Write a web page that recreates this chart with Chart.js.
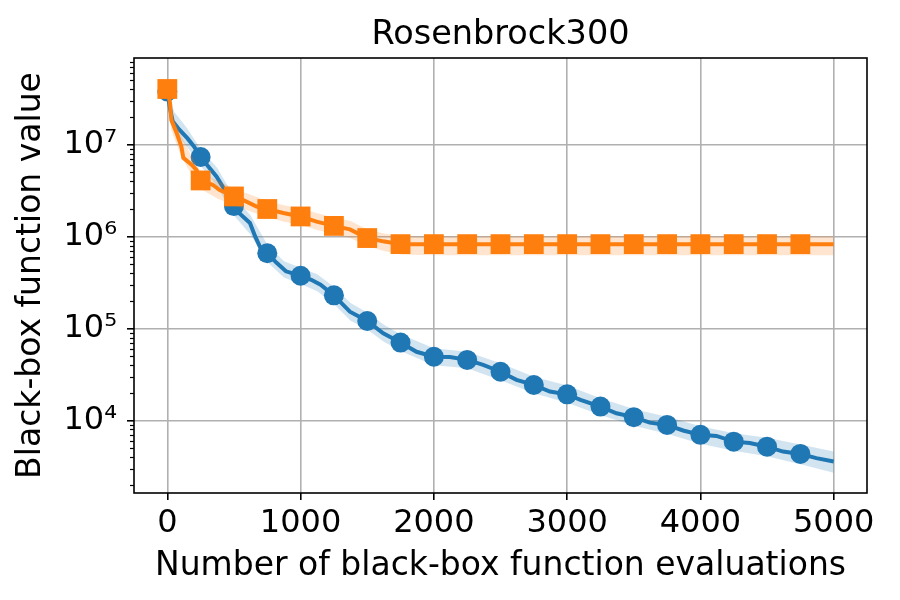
<!DOCTYPE html>
<html>
<head>
<meta charset="utf-8">
<script src="https://cdn.jsdelivr.net/npm/chart.js@4.4.1/dist/chart.umd.min.js"></script>
<style>
  html, body { margin: 0; padding: 0; background: #fff; }
</style>
</head>
<body>
<canvas id="chart" width="900" height="600"></canvas>
<script>
// values
const blueX = [0, 20, 40, 90, 150, 200, 250, 370, 430, 500, 540, 620, 660, 700, 750, 820, 890, 1000,
  1080, 1150, 1250, 1370, 1500, 1620, 1750, 1870, 2000, 2120, 2250, 2370, 2500, 2620, 2750, 2870,
  3000, 3100, 3250, 3370, 3500, 3620, 3750, 3870, 4000, 4120, 4250, 4370, 4500, 4620, 4750, 4870, 5000];
const blueY = [3.8e7, 2.5e7, 1.8e7, 1.46e7, 1.18e7, 9.6e6, 7.35e6, 4.5e6, 3.24e6, 2.15e6, 1.8e6, 1.41e6,
  1.0e6, 7.5e5, 6.6e5, 5.2e5, 4.2e5, 3.76e5, 3.4e5, 3.0e5, 2.3e5, 1.53e5, 1.21e5, 8.9e4, 7.05e4, 5.6e4,
  4.95e4, 4.9e4, 4.57e4, 4.04e4, 3.4e4, 2.77e4, 2.44e4, 2.07e4, 1.93e4, 1.68e4, 1.42e4, 1.2e4, 1.09e4,
  9.5e3, 8.97e3, 7.8e3, 6.99e3, 6.8e3, 5.9e3, 5.7e3, 5.2e3, 4.6e3, 4.34e3, 3.9e3, 3.58e3];

const orangeX = [0, 20, 30, 70, 105, 120, 180, 220, 250, 340, 390, 500, 590, 670, 750, 870, 1000, 1120,
  1250, 1370, 1500, 1620, 1750, 2000, 2250, 2500, 2750, 3000, 3250, 3500, 3750, 4000, 4250, 4500, 4750, 5000];
const orangeY = [4.04e7, 2.85e7, 1.86e7, 1.34e7, 9.6e6, 7.2e6, 6.1e6, 5.3e6, 4.09e6, 3.67e6, 3.24e6,
  2.74e6, 2.42e6, 2.13e6, 2.0e6, 1.81e6, 1.66e6, 1.46e6, 1.31e6, 1.2e6, 9.66e5, 8.9e5, 8.3e5, 8.3e5,
  8.3e5, 8.3e5, 8.3e5, 8.3e5, 8.3e5, 8.3e5, 8.3e5, 8.3e5, 8.3e5, 8.3e5, 8.3e5, 8.3e5];

// shaded spread around each curve
const blueBandX = [0, 50, 150, 250, 375, 500, 625, 750, 875, 1000, 1125, 1250, 1375, 1500, 1625, 1750,
  2000, 2250, 2500, 2750, 3000, 3250, 3500, 3750, 4000, 4250, 4500, 4750, 5000];
const blueUpper = [4.5e7, 2.3e7, 1.5e7, 9.0e6, 5.6e6, 2.7e6, 1.7e6, 8.2e5, 5.4e5, 4.6e5, 3.9e5, 2.85e5,
  1.9e5, 1.5e5, 1.1e5, 8.7e4, 6.1e4, 5.6e4, 4.2e4, 3.0e4, 2.4e4, 1.75e4, 1.34e4, 1.1e4, 8.7e3,
  7.3e3, 6.5e3, 5.5e3, 4.6e3];
const blueLower = [3.2e7, 1.4e7, 9.4e6, 5.9e6, 3.5e6, 1.7e6, 1.05e6, 5.3e5, 3.6e5, 3.05e5, 2.55e5, 1.85e5,
  1.22e5, 9.8e4, 7.2e4, 5.7e4, 4.0e4, 3.7e4, 2.75e4, 1.98e4, 1.56e4, 1.15e4, 8.8e3, 7.2e3, 5.6e3,
  4.7e3, 4.1e3, 3.35e3, 2.7e3];

const orangeBandX = [0, 30, 105, 180, 250, 375, 500, 625, 750, 875, 1000, 1125, 1250, 1375, 1500, 1625,
  1750, 2000, 2500, 3000, 3500, 4000, 4500, 5000];
const orangeUpper = [4.6e7, 2.3e7, 1.25e7, 7.6e6, 5.0e6, 4.1e6, 3.35e6, 2.85e6, 2.45e6, 2.2e6, 2.02e6,
  1.8e6, 1.62e6, 1.48e6, 1.2e6, 1.08e6, 1.01e6, 1.01e6, 1.01e6, 1.01e6, 1.01e6, 1.01e6, 1.01e6, 1.01e6];
const orangeLower = [3.5e7, 1.45e7, 7.4e6, 4.8e6, 3.3e6, 2.6e6, 2.2e6, 1.88e6, 1.64e6, 1.45e6, 1.35e6,
  1.18e6, 1.06e6, 9.6e5, 7.9e5, 7.0e5, 6.4e5, 6.3e5, 6.3e5, 6.3e5, 6.3e5, 6.3e5, 6.3e5, 6.3e5];

const xTicks = [0, 1000, 2000, 3000, 4000, 5000];
const yMajor = [1e4, 1e5, 1e6, 1e7];
const yTickLabels = ['10\u2074', '10\u2075', '10\u2076', '10\u2077'];
const markEvery = 250;

const BLUE = '#1f77b4';
const ORANGE = '#ff7f0e';
const FONT = 'DejaVu Sans';

Chart.defaults.color = '#000';
Chart.defaults.font.family = FONT;

const toPts = (xs, ys) => xs.map((x, i) => ({ x, y: ys[i] }));
const isMajor = v => Math.abs(Math.log10(v) - Math.round(Math.log10(v))) < 1e-9;

// minor log ticks 2..9 x 10^n inside the axis range
const yMin = 1630, yMax = 8.78e7;
const yMinor = [];
for (let p = 3; p <= 7; p++) {
  for (let m = 2; m <= 9; m++) {
    const v = m * Math.pow(10, p);
    if (v >= yMin && v <= yMax) yMinor.push(v);
  }
}

const markerRadius = r => ctx => {
  const x = ctx.raw && ctx.raw.x;
  return (x % markEvery === 0 && x < 5000) ? r : 0;
};

const framePlugin = {
  id: 'frame',
  afterDraw(chart) {
    const { ctx, chartArea: a } = chart;
    const y = chart.scales.y;
    ctx.save();
    ctx.strokeStyle = '#000';
    ctx.lineWidth = 1.2;
    yMinor.forEach(v => {
      const py = Math.round(y.getPixelForValue(v)) + 0.5;
      ctx.beginPath();
      ctx.moveTo(a.left - 4, py);
      ctx.lineTo(a.left, py);
      ctx.stroke();
    });
    ctx.lineWidth = 1.6;
    ctx.strokeRect(a.left, a.top, a.right - a.left, a.bottom - a.top);
    ctx.restore();
  }
};

new Chart(document.getElementById('chart'), {
  type: 'line',
  data: {
    datasets: [
      {
        data: toPts(orangeX, orangeY),
        borderColor: ORANGE,
        backgroundColor: ORANGE,
        borderWidth: 4,
        pointStyle: 'rect',
        pointRadius: markerRadius(14),
        pointBorderWidth: 0,
        tension: 0,
        fill: false
      },
      {
        data: toPts(orangeBandX, orangeUpper),
        borderWidth: 0,
        pointRadius: 0,
        backgroundColor: 'rgba(255,127,14,0.2)',
        fill: '+1'
      },
      {
        data: toPts(orangeBandX, orangeLower),
        borderWidth: 0,
        pointRadius: 0,
        fill: false
      },
      {
        data: toPts(blueX, blueY),
        borderColor: BLUE,
        backgroundColor: BLUE,
        borderWidth: 4,
        pointStyle: 'circle',
        pointRadius: markerRadius(10),
        pointBorderWidth: 0,
        tension: 0,
        fill: false
      },
      {
        data: toPts(blueBandX, blueUpper),
        borderWidth: 0,
        pointRadius: 0,
        backgroundColor: 'rgba(31,119,180,0.2)',
        fill: '+1'
      },
      {
        data: toPts(blueBandX, blueLower),
        borderWidth: 0,
        pointRadius: 0,
        fill: false
      }
    ]
  },
  options: {
    responsive: false,
    animation: false,
    layout: { padding: { left: 0, right: 33, top: 0, bottom: 0 } },
    plugins: {
      legend: { display: false },
      tooltip: { enabled: false },
      title: {
        display: true,
        fullSize: false,
        text: 'Rosenbrock300',
        color: '#000',
        font: { family: FONT, size: 33.5, weight: 'normal' },
        padding: { top: 15.2, bottom: 2.6 }
      }
    },
    scales: {
      x: {
        type: 'linear',
        min: -250,
        max: 5250,
        afterBuildTicks: s => { s.ticks = xTicks.map(v => ({ value: v })); },
        afterFit: s => { s.height = 107; },
        border: { display: false },
        grid: { color: '#b0b0b0', lineWidth: 1.6, tickColor: '#000', tickLength: 7, tickWidth: 1.6 },
        ticks: {
          font: { family: FONT, size: 32 },
          color: '#000',
          padding: 4,
          maxRotation: 0,
          autoSkip: false,
          callback: v => String(v)
        },
        title: {
          display: true,
          text: 'Number of black-box function evaluations',
          font: { family: FONT, size: 33 },
          color: '#000',
          padding: { top: 0, bottom: 14 }
        }
      },
      y: {
        type: 'logarithmic',
        min: yMin,
        max: yMax,
        afterBuildTicks: s => {
          s.ticks = yMinor.concat(yMajor).sort((a, b) => a - b).map(v => ({ value: v }));
        },
        afterFit: s => { s.width = 134; },
        border: { display: false },
        grid: {
          lineWidth: 1.6,
          color: c => (c.tick && isMajor(c.tick.value)) ? '#b0b0b0' : 'rgba(0,0,0,0)',
          tickColor: c => (c.tick && isMajor(c.tick.value)) ? '#000' : 'rgba(0,0,0,0)',
          tickLength: 7,
          tickWidth: 1.6
        },
        ticks: {
          font: { family: FONT, size: 32 },
          color: '#000',
          padding: 10,
          autoSkip: false,
          callback: v => {
            const i = yMajor.findIndex(m => Math.abs(m - v) / m < 1e-9);
            return i >= 0 ? yTickLabels[i] : '';
          }
        },
        title: {
          display: true,
          text: 'Black-box function value',
          font: { family: FONT, size: 33 },
          color: '#000',
          padding: { top: 12, bottom: 0 }
        }
      }
    }
  },
  plugins: [framePlugin]
});
</script>
</body>
</html>
